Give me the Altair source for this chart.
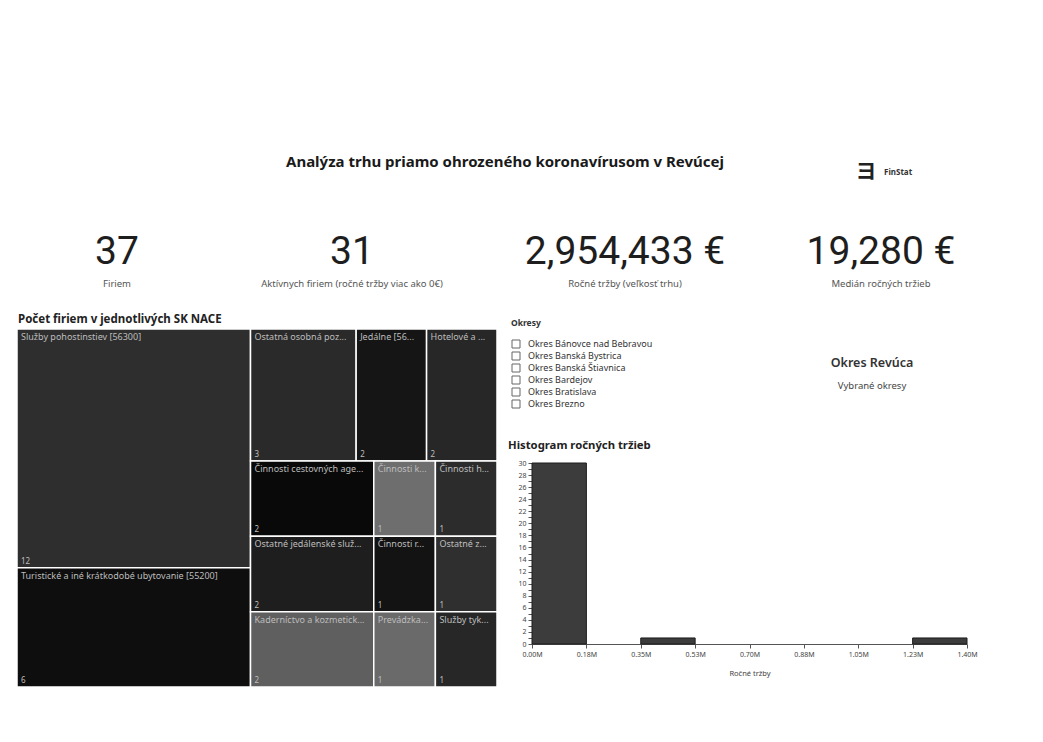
import altair as alt
import pandas as pd

# ---------------- data ----------------
title_text = "Analýza trhu priamo ohrozeného koronavírusom v Revúcej"
kpi_values = ["37", "31", "2,954,433 €", "19,280 €"]
kpi_labels = ["Firiem", "Aktívnych firiem (ročné tržby viac ako 0€)",
              "Ročné tržby (veľkosť trhu)", "Medián ročných tržieb"]

nace_names = [
    "Služby pohostinstiev [56300]",
    "Turistické a iné krátkodobé ubytovanie [55200]",
    "Ostatná osobná poz...",
    "Jedálne [56...",
    "Hotelové a ...",
    "Činnosti cestovných age...",
    "Ostatné jedálenské služ...",
    "Kaderníctvo a kozmetick...",
    "Činnosti k...",
    "Činnosti h...",
    "Činnosti r...",
    "Ostatné z...",
    "Prevádzka...",
    "Služby tyk...",
]
nace_counts = [12, 6, 3, 2, 2, 2, 2, 2, 1, 1, 1, 1, 1, 1]
nace_colors = ["#2e2e2e", "#0e0e0e", "#2a2a2a", "#151515", "#272727", "#090909",
               "#1e1e1e", "#5f5f5f", "#6e6e6e", "#2c2c2c", "#131313", "#2f2f2f",
               "#6a6a6a", "#272727"]

okresy = ["Okres Bánovce nad Bebravou", "Okres Banská Bystrica", "Okres Banská Štiavnica",
          "Okres Bardejov", "Okres Bratislava", "Okres Brezno"]

bin_starts = [0, 175000, 350000, 525000, 700000, 875000, 1050000, 1225000]
bin_ends = [175000, 350000, 525000, 700000, 875000, 1050000, 1225000, 1400000]
bin_counts = [30, 0, 1, 0, 0, 0, 0, 1]
x_tick_values = [0, 175000, 350000, 525000, 700000, 875000, 1050000, 1225000, 1400000]
x_tick_labels = ["0.00M", "0.18M", "0.35M", "0.53M", "0.70M", "0.88M", "1.05M", "1.23M", "1.40M"]
y_tick_values = list(range(0, 31))

# ---------------- treemap layout (d3 squarify, golden ratio) ----------------
TM_W, TM_H = 480.0, 358.0


def squarify(vals, x0, y0, x1, y1, ratio=(1 + 5 ** 0.5) / 2):
    rects = [None] * len(vals)
    n = len(vals)
    i0 = i1 = 0
    value = float(sum(vals))
    while i0 < n:
        dx, dy = x1 - x0, y1 - y0
        sumv = vals[i1]
        i1 += 1
        minv = maxv = sumv
        alpha = max(dy / dx, dx / dy) / (value * ratio)
        beta = sumv * sumv * alpha
        minr = max(maxv / beta, beta / minv)
        while i1 < n:
            nv = vals[i1]
            sumv += nv
            minv = min(minv, nv)
            maxv = max(maxv, nv)
            beta = sumv * sumv * alpha
            newr = max(maxv / beta, beta / minv)
            if newr > minr:
                sumv -= nv
                break
            minr = newr
            i1 += 1
        row = list(range(i0, i1))
        if dx < dy:
            yb = y0 + dy * sumv / value
            xx = x0
            for i in row:
                w = dx * vals[i] / sumv
                rects[i] = (xx, y0, xx + w, yb)
                xx += w
            y0 = yb
        else:
            xb = x0 + dx * sumv / value
            yy = y0
            for i in row:
                h = dy * vals[i] / sumv
                rects[i] = (x0, yy, xb, yy + h)
                yy += h
            x0 = xb
        value -= sumv
        i0 = i1
    return rects


rects = squarify(nace_counts, 0.0, 0.0, TM_W, TM_H)
tm_df = pd.DataFrame({
    "name": nace_names,
    "count": nace_counts,
    "color": nace_colors,
    "x0": [r[0] for r in rects],
    "y0": [r[1] for r in rects],
    "x1": [r[2] for r in rects],
    "y1": [r[3] for r in rects],
})

hist_df = pd.DataFrame({"start": bin_starts, "end": bin_ends, "count": bin_counts})
okres_df = pd.DataFrame({"okres": okresy})

# ---------------- chart ----------------
FONT = "Noto Sans"
W, H = 1027, 726

tmx = alt.Scale(domain=[0, TM_W], range=[9, 489], nice=False, zero=False)
tmy = alt.Scale(domain=[0, TM_H], range=[321, 679], nice=False, zero=False)

tm_base = alt.Chart(tm_df)
tm_rect = tm_base.mark_rect(stroke="white", strokeWidth=1.5).encode(
    x=alt.X("x0:Q", scale=tmx, axis=None),
    x2="x1:Q",
    y=alt.Y("y0:Q", scale=tmy, axis=None),
    y2="y1:Q",
    color=alt.Color("color:N", scale=None),
    tooltip=["name:N", "count:Q"],
)
tm_name = tm_base.mark_text(align="left", baseline="top", dx=4, dy=4, font=FONT,
                            fontSize=9, color="#bdbdbd").encode(
    x="x0:Q", y="y0:Q", text="name:N")
tm_cnt = tm_base.mark_text(align="left", baseline="bottom", dx=4, dy=-2, font=FONT,
                           fontSize=8, color="#bdbdbd").encode(
    x="x0:Q", y="y1:Q", text="count:Q")
treemap = alt.layer(tm_rect, tm_name, tm_cnt)

label_expr = "[" + ",".join("'%s'" % s for s in x_tick_labels) + "][round(datum.value / 175000)]"
hx = alt.Scale(domain=[0, 1400000], range=[524, 959], nice=False)
hy = alt.Scale(domain=[0, 30], range=[636, 455], nice=False)
hist = alt.Chart(hist_df).transform_filter("datum.count > 0").mark_rect(
    color="#3c3c3c", stroke="#1c1c1c", strokeWidth=1).encode(
    x=alt.X("start:Q", scale=hx, title="Ročné tržby",
            axis=alt.Axis(orient="bottom", offset=-90, values=x_tick_values,
                          labelExpr=label_expr, grid=False, labelFontSize=7,
                          labelColor="#444", titleFontSize=7.5, titleColor="#444",
                          titleFontWeight="normal", titlePadding=12, tickSize=4,
                          domainColor="#555", tickColor="#555", labelFont=FONT,
                          titleFont=FONT, labelFlush=False)),
    x2="end:Q",
    y=alt.Y("count:Q", scale=hy, title=None,
            axis=alt.Axis(orient="left", offset=-524, values=y_tick_values,
                          labelExpr="datum.value % 2 == 0 ? datum.label : ''",
                          grid=False, labelFontSize=7, labelColor="#444", tickSize=4,
                          domainColor="#555", tickColor="#555", labelFont=FONT,
                          labelPadding=2)),
    y2=alt.datum(0),
)

layers = []


def txt(text, x, y, size, weight="normal", align="left", color="#222", font=FONT):
    return alt.Chart(pd.DataFrame({"t": [text]})).mark_text(
        align=align, baseline="middle", fontSize=size, fontWeight=weight,
        color=color, font=font).encode(x=alt.value(x), y=alt.value(y), text="t:N")


layers.append(txt(title_text, 497, 154, 15, "bold", "center", "#1a1a1a"))
layers.append(txt("ヨ", 858, 164, 21, "bold", "center", "#222", "Noto Sans CJK JP"))
layers.append(txt("FinStat", 876, 165, 8, "bold", "left", "#333"))

kpi_x = [109, 344, 617, 873]
for v, lab, xx in zip(kpi_values, kpi_labels, kpi_x):
    layers.append(txt(v, xx, 244, 39, "normal", "center", "#1e1e1e", "Roboto"))
    layers.append(txt(lab, xx, 276, 9.5, "normal", "center", "#555"))

layers.append(txt("Počet firiem v jednotlivých SK NACE", 10, 312, 11.5, "bold"))
layers.append(txt("Okresy", 503, 315, 8.5, "bold", "left", "#333"))
layers.append(txt("Okres Revúca", 864, 355, 12.5, 600, "center", "#333"))
layers.append(txt("Vybrané okresy", 864, 378, 9.5, "normal", "center", "#444"))
layers.append(txt("Histogram ročných tržieb", 500, 438, 11.3, "bold"))

oy = alt.Scale(type="point", domain=okresy, range=[330, 402])
okres_box = alt.Chart(okres_df).mark_square(filled=False, size=64, stroke="#666",
                                            strokeWidth=1, opacity=1).encode(
    y=alt.Y("okres:N", scale=oy, axis=None), x=alt.value(508))
okres_txt = alt.Chart(okres_df).mark_text(align="left", baseline="middle", fontSize=9,
                                          color="#333", font=FONT).encode(
    y=alt.Y("okres:N", scale=oy, axis=None), x=alt.value(520), text="okres:N")
okres_layer = alt.layer(okres_box, okres_txt)

chart = alt.layer(treemap, hist, okres_layer, *layers).resolve_scale(
    x="independent", y="independent").resolve_axis(
    x="independent", y="independent").properties(
    width=W, height=H, padding=0, background="white").configure_view(stroke=None)

chart.save("out.html", embed_options={"renderer": "svg", "actions": False})
